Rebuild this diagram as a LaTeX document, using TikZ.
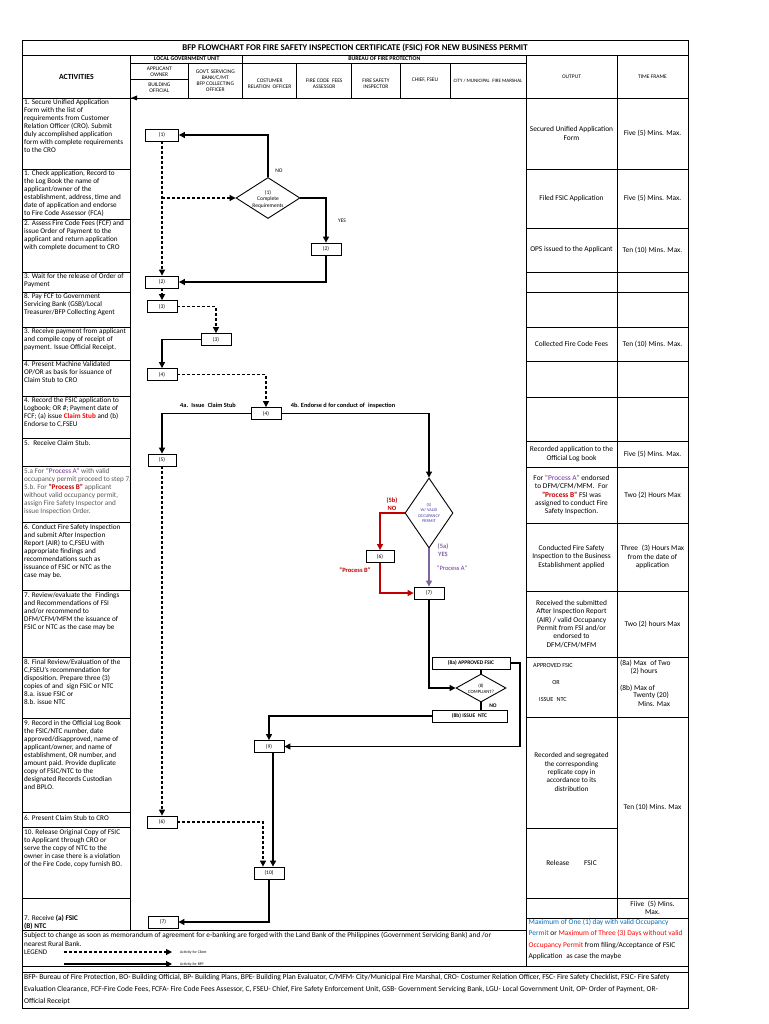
\documentclass[tikz,border=0pt]{standalone}
\usepackage{fontspec}
\setmainfont{Carlito}
\usetikzlibrary{arrows.meta,shapes.geometric}
\definecolor{dred}{HTML}{C00000}
\definecolor{bred}{HTML}{FF0000}
\definecolor{purp}{HTML}{7030A0}
\definecolor{purl}{HTML}{8064A2}
\definecolor{lblue}{HTML}{0070C0}
\definecolor{dnavy}{HTML}{3A3AA0}
\definecolor{gtext}{HTML}{595959}
\newcommand\myfs[2]{\fontsize{#1}{#2}\selectfont}
\begin{document}
\begin{tikzpicture}[x=1pt,y=-1pt]
\tikzset{
 grid/.style={line width=0.8pt},
 act/.style={anchor=north west, align=left, inner sep=0pt, font=\myfs{7.2}{8}},
 oc/.style={align=center, inner sep=0pt, font=\myfs{7.4}{8.3}},
 hd/.style={align=center, inner sep=0pt, font=\myfs{5.5}{6}},
 fb/.style={draw, line width=0.8pt, fill=white, minimum width=30pt, minimum height=12pt, inner sep=0pt, font=\myfs{5.5}{6}},
 lb/.style={draw, line width=0.8pt, fill=white, minimum height=12pt, inner sep=1.5pt, font=\bfseries\myfs{5.5}{6}},
 dia/.style={diamond, draw, line width=0.9pt, fill=white, inner sep=0pt},
 sol/.style={line width=1.1pt, -{Triangle[length=6pt,width=6pt]}},
 dsh/.style={sol, dash pattern=on 3pt off 2pt},
 tl/.style={inner sep=0pt, align=center, font=\myfs{5.5}{6.5}},
}
\useasboundingbox (0,0) rectangle (768,1024);
\fill[white] (0,0) rectangle (768,1024);

% ---------- table grid ----------
\draw[grid] (22,40) rectangle (688,1008);
\draw[grid] (22,55) -- (688,55);
\draw[grid] (130.7,63) -- (526,63);
\draw[grid] (22,98) -- (688,98);
\foreach \x in {188,296.7,351.7,400,450} \draw[grid] (\x,63) -- (\x,98);
\draw[grid] (242.7,55) -- (242.7,98);
\draw[grid] (130.7,79.5) -- (188,79.5);
\draw[line width=1.3pt] (130.7,55) -- (130.7,930);
\draw[grid] (526,55) -- (526,966);
\draw[grid] (617,55) -- (617,918);
\foreach \y in {169,219,272,292,327,360,396,438,466,522,590,657,718,812,827,898}
  \draw[grid] (22,\y) -- (130.7,\y);
\draw[grid] (22,930) -- (526,930);
\foreach \y in {169,228,272,292,327,361,397,441,467,523,591,657,717,898,918}
  \draw[grid] (526,\y) -- (688,\y);
\draw[grid] (526,828) -- (617,828);
\draw[grid] (22,966) -- (688,966);
\draw[grid] (22,972) -- (688,972);
\fill (131,98) -- (137,95.5) -- (137,100.5) -- cycle;

% ---------- header ----------
\node[inner sep=0pt, font=\bfseries\myfs{8.8}{10}] (title) at (355,47.5) {BFP FLOWCHART FOR FIRE SAFETY INSPECTION CERTIFICATE (FSIC) FOR NEW BUSINESS PERMIT};
\node[inner sep=0pt, font=\bfseries\myfs{7.8}{9}] (hact) at (76.4,76.5) {ACTIVITIES};
\node[hd, font=\bfseries\myfs{5.8}{6}] (hlgu) at (186.7,59) {LOCAL GOVERNMENT UNIT};
\node[hd, font=\bfseries\myfs{5.8}{6}] (hbfp) at (384.4,59) {BUREAU OF FIRE PROTECTION};
\node[hd] (happ) at (159.3,72) {APPLICANT\\OWNER};
\node[hd] (hbo) at (159.3,87.5) {BUILDING\\OFFICIAL};
\node[hd] (hgsb) at (215.3,80.5) {GOVT. SERVICING\\BANK/C/MT\\BFP COLLECTING\\OFFICER};
\node[hd] (hcro) at (269.7,84) {COSTUMER\\RELATION\enspace OFFICER};
\node[hd] (hfca) at (324.2,84) {FIRE CODE\enspace FEES\\ASSESSOR};
\node[hd] (hfsi) at (375.9,84) {FIRE SAFETY\\INSPECTOR};
\node[hd] (hcf) at (425,80.5) {CHIEF, FSEU};
\node[hd, font=\myfs{5}{6}] (hcm) at (488,80.5) {CITY / MUNICIPAL\enspace FIRE MARSHAL};
\node[hd] (hout) at (571.5,76.5) {OUTPUT};
\node[hd] (htf) at (652.5,76.5) {TIME FRAME};

% ---------- activities ----------
\node[act] (a1) at (24,99) {1. Secure Unified Application\\Form with the list of\\requirements from Customer\\Relation Officer (CRO). Submit\\duly accomplished application\\form with complete requirements\\to the CRO};
\node[act] (a2) at (24,170) {1. Check application, Record to\\the Log Book the name of\\applicant/owner of the\\establishment, address, time and\\date of application and endorse\\to Fire Code Assessor (FCA)};
\node[act] (a3) at (24,220) {2. Assess Fire Code Fees (FCF) and\\issue Order of Payment to the\\applicant and return application\\with complete document to CRO};
\node[act] (a4) at (24,273) {3. Wait for the release of Order of\\Payment};
\node[act] (a5) at (24,293) {8. Pay FCF to Government\\Servicing Bank (GSB)/Local\\Treasurer/BFP Collecting Agent};
\node[act] (a6) at (24,328.5) {3. Receive payment from applicant\\and compile copy of receipt of\\payment. Issue Official Receipt.};
\node[act] (a7) at (24,361.5) {4. Present Machine Validated\\OP/OR as basis for issuance of\\Claim Stub to CRO};
\node[act] (a8) at (24,397.5) {4. Record the FSIC application to\\Logbook; OR \#; Payment date of\\FCF; (a) issue \textcolor{bred}{\bfseries Claim Stub} and (b)\\Endorse to C,FSEU};
\node[act] (a9) at (24,440) {5.\enspace Receive Claim Stub.};
\node[act, text=gtext] (a10) at (24,468) {5.a For \textcolor{purp}{"Process A"} with valid\\occupancy permit proceed to step 7.\\5.b. For \textcolor{dred}{\bfseries "Process B"} applicant\\without valid occupancy permit,\\assign Fire Safety Inspector and\\issue Inspection Order.};
\node[act] (a11) at (24,524) {6. Conduct Fire Safety Inspection\\and submit After Inspection\\Report (AIR) to C,FSEU with\\appropriate findings and\\recommendations such as\\issuance of FSIC or NTC as the\\case may be.};
\node[act] (a12) at (24,592) {7. Review/evaluate the\enspace Findings\\and Recommendations of FSI\\and/or recommend to\\DFM/CFM/MFM the issuance of\\FSIC or NTC as the case may be};
\node[act] (a13) at (24,659) {8. Final Review/Evaluation of the\\C,FSEU's recommendation for\\disposition. Prepare three (3)\\copies of and\enspace sign FSIC or NTC\\8.a. issue FSIC or\\8.b. issue NTC};
\node[act] (a14) at (24,720) {9. Record in the Official Log Book\\the FSIC/NTC number, date\\approved/disapproved, name of\\applicant/owner, and name of\\establishment, OR number, and\\amount paid. Provide duplicate\\copy of FSIC/NTC to the\\designated Records Custodian\\and BPLO.};
\node[act] (a15) at (24,815) {6. Present Claim Stub to CRO};
\node[act] (a16) at (24,829) {10. Release Original Copy of FSIC\\to Applicant through CRO or\\serve the copy of NTC to the\\owner in case there is a violation\\of the Fire Code, copy furnish BO.};
\node[act, anchor=south west] (a17) at (24,929.5) {7. Receive \textbf{(a) FSIC}\\\textbf{(B) NTC}};

% ---------- output / time frame ----------
\node[oc] (o1) at (571.5,133.5) {Secured Unified Application\\Form};
\node[oc] (t1) at (652.5,133.5) {Five (5) Mins. Max.};
\node[oc] (o2) at (571.5,198.5) {Filed FSIC Application};
\node[oc] (t2) at (652.5,198.5) {Five (5) Mins. Max.};
\node[oc] (o3) at (571.5,250) {OPS issued to the Applicant};
\node[oc] (t3) at (652.5,250) {Ten (10) Mins. Max.};
\node[oc] (o4) at (571.5,344) {Collected Fire Code Fees};
\node[oc] (t4) at (652.5,344) {Ten (10) Mins. Max.};
\node[oc] (o5) at (571.5,454) {Recorded application to the\\Official Log book};
\node[oc] (t5) at (652.5,454) {Five (5) Mins. Max.};
\node[oc] (o6) at (571.5,495) {For \textcolor{purp}{"Process A"} endorsed\\to DFM/CFM/MFM.\enspace For\\\textcolor{dred}{\bfseries "Process B"} FSI was\\assigned to conduct Fire\\Safety Inspection.};
\node[oc] (t6) at (652.5,495) {Two (2) Hours Max};
\node[oc] (o7) at (571.5,557) {Conducted Fire Safety\\Inspection to the Business\\Establishment applied};
\node[oc] (t7) at (652.5,557) {Three\enspace(3) Hours Max\\from the date of\\application};
\node[oc] (o8) at (571.5,624) {Received the submitted\\After Inspection Report\\(AIR) / valid Occupancy\\Permit from FSI and/or\\endorsed to\\DFM/CFM/MFM};
\node[oc] (t8) at (652.5,624) {Two (2) hours Max};
\node[oc, font=\myfs{6.2}{7}] (o9a) at (553,666) {APPROVED FSIC};
\node[oc, font=\myfs{6.2}{7}] (o9b) at (556,683) {OR};
\node[oc, font=\myfs{6.2}{7}] (o9c) at (553,700) {ISSUE\enspace NTC};
\node[oc, anchor=west] (t9a) at (620,663) {(8a) Max\enspace of Two};
\node[oc] (t9b) at (644,671) {(2) hours};
\node[oc, anchor=west] (t9c) at (620,688) {(8b) Max of};
\node[oc] (t9d) at (651,695.5) {Twenty (20)};
\node[oc] (t9e) at (654,703.5) {Mins. Max};
\node[oc, font=\myfs{7.2}{8.3}] (o10) at (571.5,772) {Recorded and segregated\\the corresponding\\replicate copy in\\accordance to its\\distribution};
\node[oc] (t10) at (652.5,807.5) {Ten (10) Mins. Max};
\node[oc] (o11) at (571.5,863) {Release\qquad FSIC};
\node[oc] (t11) at (652.5,908) {Fiive\enspace(5) Mins.\\Max.};
\node[anchor=north west, align=left, inner sep=0pt, font=\myfs{7.4}{11.2}] (blue) at (528.5,919) {\textcolor{lblue}{Maximum of One (1) day with valid Occupancy}\\\textcolor{lblue}{Permit} or \textcolor{bred}{Maximum of Three (3) Days without valid}\\\textcolor{bred}{Occupancy Permit} from filing/Acceptance of FSIC\\Application\enspace as case the maybe};

% ---------- notes ----------
\node[anchor=north west, align=left, inner sep=0pt, font=\myfs{7.3}{9}] (subj) at (24,931.5) {Subject to change as soon as memorandum of agreement for e-banking are forged with the Land Bank of the Philippines (Government Servicing Bank) and /or\\nearest Rural Bank.};
\node[anchor=west, inner sep=0pt, font=\myfs{7}{8}] (leg) at (24,952) {LEGEND};
\coordinate (la1) at (64,952);
\coordinate (la2) at (172,952);
\coordinate (lb1) at (64,964);
\coordinate (lb2) at (172,964);
\draw[dsh] (la1) -- (la2);
\draw[sol] (lb1) -- (lb2);
\node[anchor=west, inner sep=0pt, font=\myfs{3.8}{4}] (lga) at (180,952) {Activity for Client};
\node[anchor=west, inner sep=0pt, font=\myfs{3.8}{4}] (lgb) at (180,964) {Activity for BFP};
\node[anchor=north west, align=left, inner sep=0pt, font=\myfs{7.5}{11.8}] (abbr) at (24,974.5) {BFP- Bureau of Fire Protection, BO- Building Official, BP- Building Plans, BPE- Building Plan Evaluator, C/MFM- City/Municipal Fire Marshal, CRO- Costumer Relation Officer, FSC- Fire Safety Checklist, FSIC- Fire Safety\\Evaluation Clearance, FCF-Fire Code Fees, FCFA- Fire Code Fees Assessor, C, FSEU- Chief, Fire Safety Enforcement Unit, GSB- Government Servicing Bank, LGU- Local Government Unit, OP- Order of Payment, OR-\\Official Receipt};

% ---------- flow nodes ----------
\node[fb, minimum width=33pt] (b1) at (162,135) {(1)};
\node[dia, minimum width=64pt, minimum height=41pt] (d1) at (268,198) {};
\node[tl] (d1t) at (268,199) {(1)\\Complete\\Requirements};
\node[fb] (b2r) at (326,249) {(2)};
\node[fb, minimum width=33pt] (b2l) at (162,282) {(2)};
\node[fb] (b3a) at (162,306.5) {(3)};
\node[fb] (b3b) at (216,339.5) {(3)};
\node[fb] (b4a) at (162,374.5) {(4)};
\node[fb] (b4b) at (266,413.5) {(4)};
\node[fb, minimum width=28pt] (b5) at (162,460) {(5)};
\node[dia, minimum width=48pt, minimum height=70pt] (d5) at (429,513) {};
\node[tl, font=\myfs{4.3}{5.2}, text=dnavy] (d5t) at (429,513) {(5)\\W/ VALID\\OCCUPANCY\\PERMIT};
\node[fb, minimum width=28pt] (b6f) at (380,556.5) {(6)};
\node[fb] (b7) at (429,593) {(7)};
\node[lb, minimum width=78pt] (b8a) at (471,663) {(8a) APPROVED FSIC};
\node[dia, minimum width=50pt, minimum height=28pt] (d8) at (481,688) {};
\node[tl, font=\myfs{4.8}{5.8}] (d8t) at (481,688.5) {(8)\\COMPLIANT?};
\node[lb, minimum width=75pt] (b8b) at (469.5,716) {(8b) ISSUE\enspace NTC};
\node[fb] (b9) at (269,746.5) {(9)};
\node[fb] (b6) at (162,822) {(6)};
\node[fb] (b10) at (269,873) {(10)};
\node[fb] (b7r) at (163,922) {(7)};

% ---------- connectors ----------
\coordinate (j1) at (162,198);
\coordinate (c8a) at (520,663);
\draw[sol] (d1.north) |- (b1.east);
\draw[dsh] (b1.south) -- (b2l.north);
\draw[dsh] (j1) -- (d1.west);
\draw[sol] (d1.east) -| (b2r.north);
\draw[sol] (b2r.south) |- (b2l.east);
\draw[dsh] (b2l.south) -- (b3a.north);
\draw[dsh] (b3a.east) -| (b3b.north);
\draw[sol] (b3b.west) -| (b4a.north);
\draw[dsh] (b4a.east) -| (b4b.north);
\draw[sol] (b4b.west) -| (b5.north);
\draw[sol] (b4b.east) -| (d5.north);
\draw[dsh] (b5.south) -- (b6.north);
\draw[sol, dred] (d5.west) -| (b6f.north);
\draw[sol, dred] (b6f.south) |- (b7.west);
\draw[sol, purl] (d5.south) -- (b7.north);
\draw[sol, line width=2pt] (b7.south) |- (d8.west);
\draw[line width=1.1pt] (d8.north) -- (d8.north |- b8a.south);
\draw[line width=1.1pt] (d8.south) -- (d8.south |- b8b.north);
\draw[sol] (b8a.east) -- (c8a) |- (b9.east);
\draw[sol] (b8b.west) -| (b9.north);
\draw[sol] ([xshift=4pt]b9.south) -- ([xshift=4pt]b10.north);
\draw[dsh] (b6.east) -| ([xshift=-6pt]b10.north);
\draw[sol] (b10.south) |- (b7r.east);

% ---------- flow labels ----------
\node[tl] (lno) at (279,171) {NO};
\node[tl] (lyes) at (342,221) {YES};
\node[tl, font=\bfseries\myfs{6.3}{7}] (l4a) at (208,405.5) {4a.\enspace Issue\enspace Claim Stub};
\node[tl, font=\bfseries\myfs{6.3}{7}] (l4b) at (343,405.5) {4b. Endorse d for conduct of\enspace inspection};
\node[tl, font=\bfseries\myfs{6.5}{8.5}, text=dred, anchor=south] (l5b) at (392,511) {(5b)\\NO};
\node[tl, font=\bfseries\myfs{6.5}{8.5}, text=purl, anchor=north] (l5a) at (443,543) {(5a)\\YES};
\node[tl, font=\bfseries\myfs{6.5}{8}, text=dred] (lpb) at (355,570) {"Process B"};
\node[tl, font=\myfs{6.5}{8}, text=purp] (lpa) at (452,568) {"Process A"};
\node[tl, font=\bfseries\myfs{5.5}{6}] (l8no) at (493,706) {NO};
\end{tikzpicture}
\end{document}
